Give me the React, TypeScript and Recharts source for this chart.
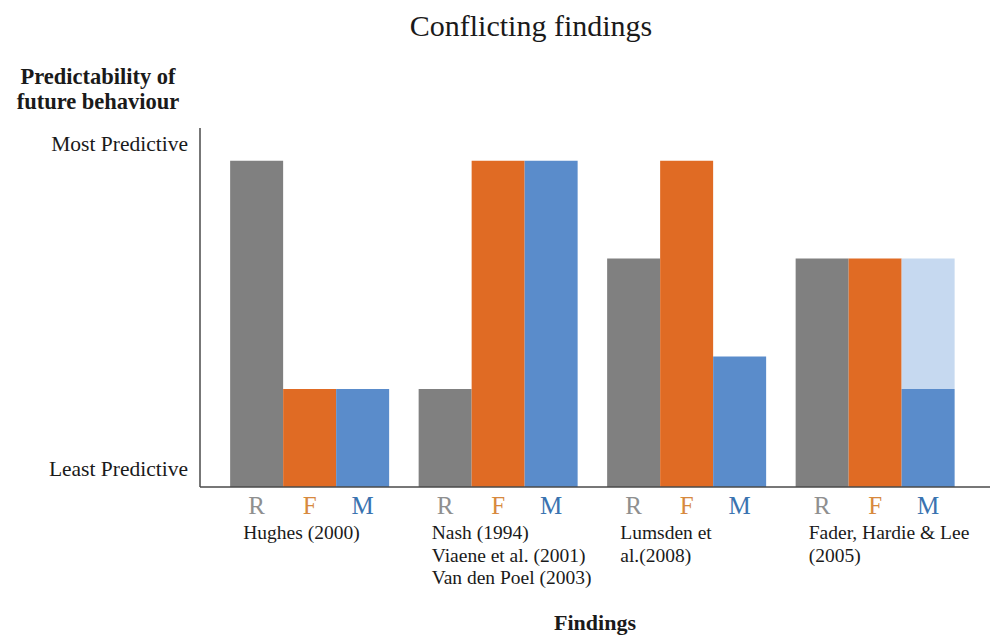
import React from 'react';
import { BarChart, Bar, XAxis, YAxis, LabelList } from 'recharts';

// study groups, one line per row of the caption
const studies = [
  'Hughes (2000)',
  'Nash (1994)\nViaene et al. (2001)\nVan den Poel (2003)',
  'Lumsden et\nal.(2008)',
  'Fader, Hardie & Lee\n(2005)',
];

// predictability scores (0 = least, 10 = most)
const recency = [10, 3, 7, 7];
const frequency = [3, 10, 10, 7];
const monetary = [3, 10, 4, 3];
const monetaryRange = [0, 0, 0, 4]; // uncertain upper range, light blue

const yTicks = [0.58, 10.54];
const yTickLabels = ['Least Predictive', 'Most Predictive'];

const FONT = '"Liberation Serif", "Times New Roman", serif';
const GRAY = '#808080';
const ORANGE = '#e06b24';
const BLUE = '#5a8ccb';
const LIGHT_BLUE = '#c6d9f0';

const data = studies.map((name, i) => ({
  name,
  R: recency[i],
  F: frequency[i],
  M: monetary[i],
  Mx: monetaryRange[i],
}));

const letter = (text: string, color: string) => (props: any) => {
  const { x, y, width, height } = props;
  return (
    <text
      x={Number(x) + Number(width) / 2}
      y={Number(y) + Number(height) + 27}
      textAnchor="middle"
      fill={color}
      style={{ fontFamily: FONT, fontSize: 25 }}
    >
      {text}
    </text>
  );
};

const StudyTick = (props: any) => {
  const { x, y, payload } = props;
  const lines = String(payload.value).split('\n');
  return (
    <g>
      {lines.map((line, i) => (
        <text
          key={i}
          x={x - 67}
          y={y + 44 + i * 22.5}
          textAnchor="start"
          fill="#1a1a1a"
          style={{ fontFamily: FONT, fontSize: 19.5 }}
        >
          {line}
        </text>
      ))}
    </g>
  );
};

const LevelTick = (props: any) => {
  const { x, y, payload, index } = props;
  return (
    <text x={x} y={y} dy="0.35em" textAnchor="end" fill="#1a1a1a" style={{ fontFamily: FONT, fontSize: 21.5 }}>
      {yTickLabels[index] ?? payload.value}
    </text>
  );
};

export default function App() {
  return (
    <div style={{ position: 'absolute', left: 0, top: 0, width: 990, height: 635, background: '#fff', fontFamily: FONT }}>
      <BarChart
        width={990}
        height={635}
        data={data}
        margin={{ top: 128, right: 0, bottom: 28, left: 0 }}
        barCategoryGap="7.5%"
        barGap={0}
      >
        <XAxis
          dataKey="name"
          tick={<StudyTick />}
          tickLine={false}
          axisLine={{ stroke: '#4a4a4a', strokeWidth: 1.5 }}
          padding={{ left: 16, right: 20 }}
          height={120}
          interval={0}
        />
        <YAxis
          domain={[0, 11]}
          ticks={yTicks}
          tick={<LevelTick />}
          tickLine={false}
          tickSize={0}
          tickMargin={12}
          axisLine={{ stroke: '#4a4a4a', strokeWidth: 1.5 }}
          width={200}
        />
        <Bar dataKey="R" stackId="r" fill={GRAY} isAnimationActive={false}>
          <LabelList dataKey="R" content={letter('R', '#8f8f8f')} />
        </Bar>
        <Bar dataKey="F" stackId="f" fill={ORANGE} isAnimationActive={false}>
          <LabelList dataKey="F" content={letter('F', '#d7893e')} />
        </Bar>
        <Bar dataKey="M" stackId="m" fill={BLUE} isAnimationActive={false}>
          <LabelList dataKey="M" content={letter('M', '#3a73b0')} />
        </Bar>
        <Bar dataKey="Mx" stackId="m" fill={LIGHT_BLUE} isAnimationActive={false} />
      </BarChart>
      <svg
        width={990}
        height={635}
        style={{ position: 'absolute', left: 0, top: 0, pointerEvents: 'none' }}
      >
        <text x={531} y={36} textAnchor="middle" style={{ fontFamily: FONT, fontSize: 30 }} fill="#1a1a1a">
          Conflicting findings
        </text>
        <text x={98} y={84} textAnchor="middle" style={{ fontFamily: FONT, fontSize: 22.5, fontWeight: 'bold' }} fill="#1a1a1a">
          Predictability of
        </text>
        <text x={98} y={109} textAnchor="middle" style={{ fontFamily: FONT, fontSize: 22.5, fontWeight: 'bold' }} fill="#1a1a1a">
          future behaviour
        </text>
        <text x={595} y={630} textAnchor="middle" style={{ fontFamily: FONT, fontSize: 22, fontWeight: 'bold' }} fill="#1a1a1a">
          Findings
        </text>
      </svg>
    </div>
  );
}
